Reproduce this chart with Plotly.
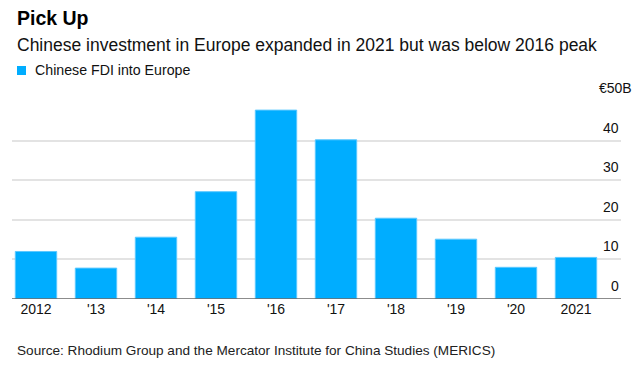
import plotly.graph_objects as go

years = ["2012", "2013", "2014", "2015", "2016", "2017", "2018", "2019", "2020", "2021"]
year_labels = ["2012", "'13", "'14", "'15", "'16", "'17", "'18", "'19", "'20", "2021"]
fdi_values = [12.0, 7.8, 15.6, 27.1, 47.7, 40.2, 20.4, 15.1, 8.0, 10.5]
y_ticks = [0, 10, 20, 30, 40, 50]
y_tick_text = ["0", "10", "20", "30", "40", "€50B"]

FONT = "Liberation Sans, Arial, sans-serif"
BLUE = "#00adff"

W, H = 644, 370
L, R, T, B = 12, 23, 101, 71
pw = W - L - R
ph = H - T - B


def px_x(p):
    return (p - L) / pw


def px_y(p):
    return (H - B - p) / ph


fig = go.Figure()
fig.add_trace(go.Bar(
    x=list(range(len(years))), y=fdi_values,
    marker=dict(color=BLUE, line=dict(color="#5cc8ff", width=1)),
    width=0.69, showlegend=False, hoverinfo="skip",
))

annotations = []
for v, t in zip(y_ticks, y_tick_text):
    annotations.append(dict(
        x=1, xref="paper", y=v, yref="y", text=t, showarrow=False,
        xanchor="right", yanchor="middle", yshift=13,
        xshift=13 if v == 50 else 0,
        font=dict(family=FONT, size=14, color="#111"),
    ))

annotations += [
    dict(x=px_x(15), xref="paper", y=px_y(18), yref="paper", text="<b>Pick Up</b>",
         showarrow=False, xanchor="left", yanchor="middle",
         font=dict(family=FONT, size=19.5, color="#000")),
    dict(x=px_x(15), xref="paper", y=px_y(45), yref="paper",
         text="Chinese investment in Europe expanded in 2021 but was below 2016 peak",
         showarrow=False, xanchor="left", yanchor="middle",
         font=dict(family=FONT, size=17.5, color="#111")),
    dict(x=px_x(33), xref="paper", y=px_y(70), yref="paper",
         text="Chinese FDI into Europe",
         showarrow=False, xanchor="left", yanchor="middle",
         font=dict(family=FONT, size=14.2, color="#111")),
    dict(x=px_x(15), xref="paper", y=px_y(350), yref="paper",
         text="Source: Rhodium Group and the Mercator Institute for China Studies (MERICS)",
         showarrow=False, xanchor="left", yanchor="middle",
         font=dict(family=FONT, size=13.6, color="#222")),
]

shapes = [
    dict(type="rect", xref="paper", yref="paper",
         x0=px_x(17), x1=px_x(26), y0=px_y(75), y1=px_y(66),
         fillcolor=BLUE, line=dict(width=0)),
    dict(type="line", xref="paper", yref="y", x0=0, x1=1, y0=0, y1=0,
         line=dict(color="#666", width=1.5), layer="above"),
]

fig.update_layout(
    width=W, height=H,
    margin=dict(l=L, r=R, t=T, b=B, pad=0),
    paper_bgcolor="white", plot_bgcolor="white",
    xaxis=dict(
        range=[-0.4, 9.75], tickmode="array",
        tickvals=list(range(len(years))), ticktext=year_labels,
        showgrid=False, zeroline=False, showline=False, ticks="",
        tickfont=dict(family=FONT, size=14, color="#111"),
        fixedrange=True,
    ),
    yaxis=dict(
        range=[0, 50], tickvals=y_ticks, showticklabels=False,
        showgrid=True, gridcolor="#e3e3e3", gridwidth=1.5,
        zeroline=False, showline=False, ticks="", fixedrange=True,
    ),
    annotations=annotations,
    shapes=shapes,
)

fig.write_html(
    "out.html",
    config={"displayModeBar": False},
    post_script="document.body.style.margin='0';document.body.style.padding='0';",
)
